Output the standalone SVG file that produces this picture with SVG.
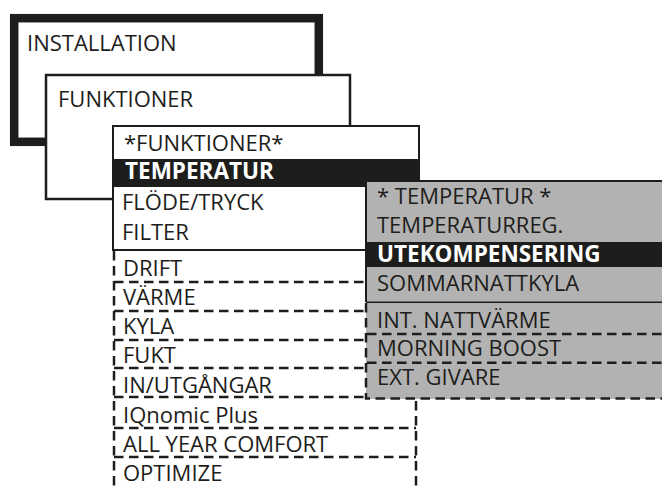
<svg xmlns="http://www.w3.org/2000/svg" width="662" height="486" viewBox="0 0 662 486">
  <style>
    .t { font-family: "Open Sans", "Liberation Sans", sans-serif; font-size: 22px; fill: #1d1d1b; }
    .b { font-family: "Open Sans", "Liberation Sans", sans-serif; font-size: 22.5px; font-weight: 700; fill: #ffffff; }
    .box { fill: #ffffff; stroke: #1d1d1b; }
    .dash { fill: none; stroke: #1d1d1b; stroke-width: 2.5; stroke-dasharray: 9.5 5.5; }
    .solid { fill: none; stroke: #1d1d1b; }
    .bar { fill: #1d1d1b; }
  </style>
  <rect width="662" height="486" fill="#ffffff"/>

  <g id="installation">
    <rect class="box" x="14.2" y="18.2" width="304.6" height="123.6" stroke-width="8.5"/>
    <text class="t" x="27" y="51">INSTALLATION</text>
  </g>

  <g id="funktioner">
    <rect class="box" x="46" y="75" width="304" height="124" stroke-width="2.5"/>
    <text class="t" x="58" y="107">FUNKTIONER</text>
  </g>

  <g id="funktioner-menu">
    <rect class="box" x="113" y="126" width="306" height="124" stroke-width="2"/>
    <rect class="bar" x="112" y="159" width="308" height="28"/>
    <text class="t" x="124" y="151">*FUNKTIONER*</text>
    <text class="b" x="125" y="179">TEMPERATUR</text>
    <text class="t" x="122" y="210">FLÖDE/TRYCK</text>
    <text class="t" x="122" y="239.5">FILTER</text>
  </g>

  <g id="funktioner-more">
    <path class="dash" d="M114,251 V486 M416,251 V486"/>
    <path class="dash" d="M114,282 H416 M114,311 H416 M114,340 H416 M114,368 H416 M114,397 H416 M114,428 H416 M114,457 H416"/>
    <text class="t" x="123" y="275.7">DRIFT</text>
    <text class="t" x="123" y="305">VÄRME</text>
    <text class="t" x="123" y="334.3">KYLA</text>
    <text class="t" x="123" y="363.3">FUKT</text>
    <text class="t" x="123" y="392.7">IN/UTGÅNGAR</text>
    <text class="t" x="123" y="422.7">IQnomic Plus</text>
    <text class="t" x="123" y="451.7">ALL YEAR COMFORT</text>
    <text class="t" x="123" y="480.7">OPTIMIZE</text>
  </g>

  <g id="temperatur-menu">
    <rect x="366" y="181" width="300" height="218" fill="#b2b2b2"/>
    <path class="solid" stroke-width="2" d="M366,302 V181 H666"/>
    <path class="solid" stroke-width="1.5" d="M366,302.3 H666"/>
    <rect class="bar" x="366" y="242" width="300" height="25"/>
    <path class="dash" d="M366,303 V398.5 H666"/>
    <path class="dash" d="M367,334 H666 M367,362.7 H666"/>
    <text class="t" x="377" y="203.7">* TEMPERATUR *</text>
    <text class="t" x="377" y="232.7">TEMPERATURREG.</text>
    <text class="b" x="377" y="262">UTEKOMPENSERING</text>
    <text class="t" x="377" y="291.3">SOMMARNATTKYLA</text>
    <text class="t" x="377" y="327.5">INT. NATTVÄRME</text>
    <text class="t" x="377" y="355.5">MORNING BOOST</text>
    <text class="t" x="377" y="385">EXT. GIVARE</text>
  </g>
</svg>
